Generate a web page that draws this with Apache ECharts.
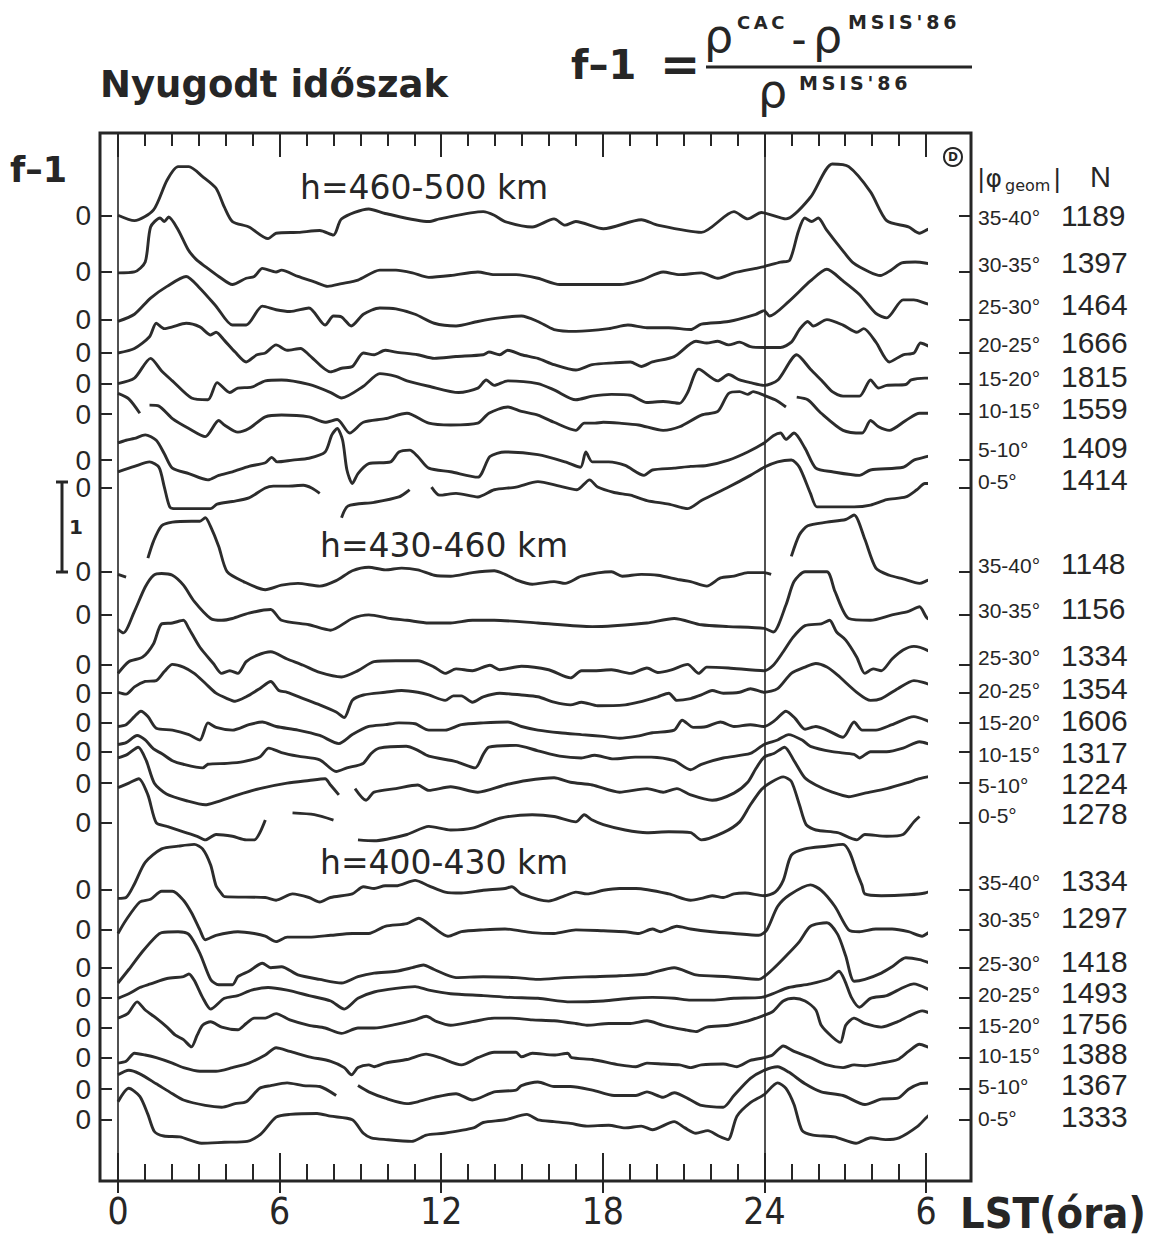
<!DOCTYPE html>
<html><head><meta charset="utf-8">
<script src="https://cdn.jsdelivr.net/npm/echarts/dist/echarts.min.js"></script>
<style>html,body{margin:0;padding:0;background:#fff}#c{width:1152px;height:1237px}</style>
</head><body><div id="c"></div><script>
// ---- DATA: f-1 values, [LST hour, f-1]; null = gap in the curve ----
// h = 460-500 km
const a1=[[0,0],[0.61,-0.06],[1.32,0.06],[1.82,0.39],[2.23,0.54],[2.63,0.54],[3.14,0.43],[3.64,0.3],[3.95,0.09],[4.25,-0.07],[4.86,-0.13],[5.57,-0.26],[5.87,-0.2],[6.7,-0.19],[7.49,-0.17],[8.0,-0.22],[8.3,-0.04],[9.31,0.07],[9.92,0.02],[11.54,-0.07],[11.94,-0.04],[13.56,0.04],[13.97,0],[14.37,-0.07],[15.38,-0.13],[16.19,-0.04],[16.6,-0.11],[17.0,-0.07],[18.02,-0.15],[19.43,-0.05],[20.04,-0.11],[21.66,-0.19],[22.87,0.04],[23.38,-0.04],[23.89,0.03],[24.8,-0.04],[25.71,0.2],[26.52,0.57],[27.13,0.54],[27.94,0.26],[28.54,-0.06],[29.35,-0.13],[29.76,-0.2],[30.16,-0.15],[30.77,-0.17]];
const a2=[[0,-0.01],[0.61,0],[1.01,0.11],[1.21,0.5],[1.56,0.6],[1.72,0.56],[1.88,0.61],[2.23,0.47],[2.6,0.25],[2.9,0.14],[3.24,0.06],[3.74,-0.05],[4.25,-0.14],[4.76,-0.07],[5.06,-0.05],[5.36,0.04],[5.87,0],[6.07,0.02],[6.68,-0.05],[7.29,-0.11],[7.79,-0.16],[8.3,-0.13],[8.91,-0.09],[9.72,0.02],[10.32,0.02],[10.93,-0.01],[11.54,-0.06],[12.35,-0.04],[13.36,0],[13.97,-0.03],[14.78,-0.03],[15.59,-0.07],[16.4,-0.14],[17.21,-0.14],[18.62,-0.14],[19.43,-0.09],[20.24,0],[20.85,-0.03],[21.66,-0.01],[22.27,-0.07],[22.87,-0.01],[23.68,0.04],[23.99,0.06],[24.6,0.11],[24.94,0.13],[25.26,0.45],[25.5,0.6],[25.75,0.56],[26.0,0.6],[26.3,0.47],[26.9,0.24],[27.3,0.1],[27.9,0],[28.3,-0.04],[28.7,0.02],[29.1,0.1],[29.6,0.11],[29.96,0.1],[30.57,0.06]];
const a3=[[0,-0.02],[0.61,0.06],[1.21,0.24],[1.82,0.37],[2.53,0.48],[3.04,0.35],[3.64,0.15],[4.25,-0.06],[4.76,-0.06],[5.36,0.15],[5.87,0.11],[6.38,0.09],[7.09,0.13],[7.69,-0.06],[8.0,0.04],[8.3,0.03],[8.66,-0.07],[9.11,0.06],[9.72,0.13],[10.32,0.12],[11.03,0.06],[11.74,-0.04],[12.55,-0.07],[13.36,-0.02],[14.17,0.02],[14.98,0.04],[15.59,-0.02],[16.19,-0.11],[17.0,-0.13],[18.22,-0.1],[18.93,-0.06],[19.64,-0.09],[20.45,-0.09],[21.26,-0.11],[21.66,-0.05],[22.67,-0.02],[23.68,0.06],[23.99,0.1],[24.19,0.04],[24.9,0.2],[25.71,0.43],[26.32,0.56],[26.92,0.43],[27.53,0.28],[28.14,0.07],[28.54,0.02],[29.15,0.22],[29.55,0.22],[30.16,0.17],[30.67,0.17]];
const a4=[[0,0],[0.61,0.05],[1.17,0.18],[1.42,0.33],[1.72,0.27],[2.02,0.29],[2.53,0.33],[3.04,0.29],[3.44,0.2],[3.64,0.23],[3.95,0.14],[4.35,0.01],[4.76,-0.1],[5.16,-0.02],[5.47,0],[5.87,0.09],[6.28,0.03],[6.78,0.05],[7.09,-0.02],[7.89,-0.21],[8.3,-0.17],[8.7,-0.15],[9.11,0],[9.51,-0.02],[9.92,0.03],[10.32,0.01],[11.13,-0.02],[11.74,-0.06],[12.55,-0.04],[13.56,-0.02],[13.77,0.01],[14.17,-0.02],[14.47,0.03],[14.98,-0.02],[15.59,-0.06],[16.19,-0.13],[17.0,-0.19],[17.61,-0.13],[18.42,-0.11],[19.03,-0.1],[19.43,-0.15],[19.84,-0.1],[20.65,-0.04],[21.46,0.13],[21.86,0.11],[22.27,0.13],[22.67,0.09],[23.08,0.12],[23.48,0.07],[23.99,0.06],[24.6,0.06],[25.0,0.12],[25.3,0.26],[25.61,0.35],[25.81,0.3],[26.32,0.37],[26.92,0.31],[27.43,0.23],[27.69,0.27],[28.14,0.12],[28.64,-0.1],[29.15,-0.02],[29.55,0],[29.8,0.11],[30.16,0.07],[30.67,0.05]];
const a5=[[0,0],[0.61,0.06],[1.21,0.28],[1.62,0.14],[2.02,0.03],[2.73,-0.16],[3.34,-0.18],[3.68,0.01],[4.15,-0.1],[4.45,-0.05],[4.96,-0.04],[5.47,0.03],[6.07,0.04],[7.09,-0.01],[7.9,-0.1],[8.3,-0.16],[9.11,-0.03],[9.72,0.11],[10.32,0.08],[10.73,0.03],[11.54,-0.03],[12.65,-0.1],[13.36,-0.05],[13.67,0.04],[13.97,-0.02],[14.47,0.03],[15.59,0],[16.19,-0.07],[17.0,-0.18],[17.61,-0.14],[18.32,-0.12],[19.03,-0.13],[19.64,-0.21],[20.24,-0.2],[20.85,-0.22],[21.15,-0.1],[21.56,0.16],[22.27,0.03],[22.67,0.1],[23.08,0.04],[23.48,0.01],[23.99,-0.02],[24.5,0.04],[25.2,0.32],[25.71,0.16],[26.11,0.04],[26.52,-0.09],[26.92,-0.14],[27.53,-0.14],[27.94,0.04],[28.24,-0.05],[28.54,-0.02],[29.25,-0.01],[29.45,0.04],[29.96,0.06],[30.67,0.06]];
const a6=[[0,0.23],[0.4,0.17],[0.81,0.01],null,[1.17,0.1],[1.52,0.09],[2.02,-0.05],[2.63,-0.16],[3.24,-0.25],[3.74,-0.07],[3.95,-0.12],[4.45,-0.2],[4.86,-0.16],[5.47,-0.03],[6.07,-0.01],[7.09,-0.03],[7.69,-0.09],[8.14,-0.06],[8.6,-0.21],[9.11,-0.09],[9.92,-0.05],[10.73,0.01],[11.54,-0.1],[12.35,-0.12],[13.36,-0.1],[13.77,0.01],[14.47,0.08],[14.98,0.03],[15.59,-0.01],[16.19,-0.09],[17.0,-0.18],[17.31,-0.1],[17.71,-0.1],[18.02,-0.09],[18.62,-0.1],[19.33,-0.12],[20.24,-0.18],[20.85,-0.14],[21.66,-0.01],[22.27,0.03],[22.67,0.23],[23.08,0.25],[23.38,0.22],[23.58,0.25],[23.99,0.21],[24.4,0.16],[24.8,0.08],null,[25.2,0.19],[25.61,0.16],[26.11,0.01],[26.92,-0.18],[27.63,-0.21],[27.94,-0.07],[28.24,-0.14],[28.64,-0.18],[29.25,-0.07],[29.76,0.01],[30.67,0.01]];
const a7=[[0,0.19],[0.3,0.22],[0.61,0.24],[1.01,0.28],[1.42,0.22],[1.72,0.07],[2.02,-0.09],[2.63,-0.15],[3.34,-0.22],[3.74,-0.17],[4.25,-0.13],[4.86,-0.07],[5.47,-0.03],[5.71,0.03],[5.91,-0.02],[6.48,0],[7.09,0.02],[7.69,0.09],[7.94,0.28],[8.14,0.35],[8.34,0.22],[8.5,-0.11],[8.7,-0.26],[8.91,-0.15],[9.31,-0.04],[10.12,-0.02],[10.43,0.09],[10.83,0.11],[11.13,0.04],[11.54,-0.09],[12.35,-0.13],[13.36,-0.19],[13.81,0.04],[14.37,0.09],[15.59,0.06],[16.6,-0.02],[17.17,-0.08],[17.37,0.09],[17.61,-0.02],[18.22,-0.02],[18.83,-0.06],[19.53,-0.17],[19.84,-0.11],[20.65,-0.09],[21.26,-0.07],[21.86,-0.06],[22.67,0],[23.38,0.09],[23.99,0.19],[24.33,0.27],[24.6,0.3],[24.8,0.23],[25.1,0.3],[25.51,0.13],[25.91,-0.09],[26.52,-0.13],[27.53,-0.17],[27.94,-0.11],[29.15,-0.08],[29.55,0],[30.06,0.04],[30.67,0.11]];
const a8=[[0,0.18],[0.61,0.24],[1.17,0.29],[1.52,0.23],[1.72,0.01],[1.92,-0.21],[2.13,-0.23],[3.44,-0.23],[3.68,-0.18],[4.25,-0.15],[4.86,-0.11],[5.47,0],[5.77,0.02],[6.28,0.02],[6.88,0.03],[7.19,0],[7.49,-0.06],null,[8.3,-0.33],[8.54,-0.2],[9.51,-0.16],[10.43,-0.1],[10.83,-0.02],null,[11.64,0.01],[11.94,-0.08],[12.55,-0.06],[13.36,-0.1],[13.97,-0.02],[14.78,0.01],[15.59,0.07],[16.4,0.02],[17.04,-0.02],[17.51,0.09],[17.81,0.01],[18.42,-0.05],[19.03,-0.08],[19.64,-0.14],[20.45,-0.18],[21.15,-0.23],[21.66,-0.14],[22.67,0.01],[23.48,0.14],[23.99,0.23],[24.49,0.29],[25.0,0.31],[25.3,0.23],[25.71,-0.06],[25.95,-0.21],[26.52,-0.21],[27.33,-0.21],[27.94,-0.19],[28.54,-0.13],[29.25,-0.1],[29.66,-0.02],[29.96,0.05],[30.67,0.05]];
// h = 430-460 km
const b1=[[0,-0.03],[0.3,-0.06],null,[1.11,0.15],[1.32,0.34],[1.62,0.51],[2.02,0.55],[2.73,0.56],[3.04,0.56],[3.24,0.6],[3.44,0.5],[3.74,0.28],[4.05,0],[4.66,-0.11],[5.47,-0.2],[6.07,-0.15],[6.68,-0.13],[7.49,-0.16],[8.1,-0.1],[8.7,0.01],[9.31,0.05],[9.92,0.02],[10.53,0.04],[11.13,0.02],[11.74,-0.04],[12.35,-0.05],[13.16,-0.01],[13.97,0.01],[14.37,-0.03],[14.78,-0.09],[15.38,-0.14],[16.19,-0.11],[16.6,-0.13],[17.21,-0.05],[18.32,0],[18.72,-0.05],[19.43,-0.03],[20.04,-0.04],[20.85,-0.09],[21.26,-0.11],[21.86,-0.16],[22.37,-0.07],[22.87,-0.05],[23.38,-0.01],[23.99,-0.01],[24.25,-0.03],null,[25.0,0.17],[25.3,0.41],[25.61,0.51],[26.32,0.55],[27.02,0.58],[27.33,0.63],[27.73,0.36],[28.14,0.04],[28.64,-0.04],[29.15,-0.08],[29.76,-0.13],[30.16,-0.09],[30.67,-0.09]];
const b2=[[0,-0.16],[0.2,-0.2],[0.61,0.04],[1.01,0.31],[1.32,0.44],[1.62,0.46],[2.02,0.44],[2.43,0.33],[2.83,0.15],[3.44,-0.04],[3.85,-0.06],[4.25,-0.04],[4.86,0.02],[5.67,0.06],[6.07,-0.06],[7.09,-0.11],[7.89,-0.17],[8.7,-0.04],[9.31,0],[10.12,-0.04],[10.73,-0.06],[11.54,-0.09],[12.35,-0.09],[13.16,-0.06],[13.97,-0.06],[15.59,-0.09],[17.61,-0.13],[18.42,-0.12],[19.64,-0.09],[20.65,-0.04],[21.66,-0.11],[22.67,-0.13],[23.99,-0.15],[24.33,-0.19],[24.8,0.11],[25.1,0.37],[25.51,0.48],[26.32,0.48],[26.62,0.26],[27.13,-0.04],[27.94,-0.06],[28.74,0],[29.35,0.04],[29.76,0.09],[30.06,-0.04],[30.67,-0.06]];
const b3=[[0,-0.1],[0.4,0.03],[0.91,0.08],[1.32,0.23],[1.62,0.45],[2.02,0.46],[2.43,0.49],[2.63,0.4],[3.04,0.19],[3.54,0.01],[3.85,-0.1],[4.15,-0.07],[4.45,-0.1],[4.76,0.03],[5.16,0.1],[5.67,0.14],[6.28,0.06],[6.88,-0.01],[7.49,-0.09],[8.3,-0.14],[8.91,-0.07],[9.51,0.03],[10.32,0.04],[11.13,0.04],[11.74,-0.03],[12.15,-0.1],[12.55,-0.05],[13.16,-0.07],[13.81,-0.01],[14.17,-0.06],[14.98,-0.02],[15.99,-0.06],[16.8,-0.15],[17.21,-0.07],[17.71,-0.07],[18.32,-0.06],[19.03,-0.1],[19.64,-0.04],[20.04,-0.09],[20.55,-0.06],[21.15,0],[21.56,-0.1],[21.86,-0.03],[22.67,-0.04],[23.99,-0.07],[24.33,-0.01],[24.7,0.14],[25.06,0.3],[25.51,0.43],[26.11,0.45],[26.42,0.49],[26.68,0.36],[27.02,0.27],[27.43,0.08],[27.73,-0.1],[28.04,-0.05],[28.34,-0.07],[28.74,0.06],[29.15,0.16],[29.55,0.2],[30.16,0.14],[30.77,0.01]];
const b4=[[0,0.01],[0.3,-0.01],[0.61,0.07],[1.01,0.13],[1.42,0.14],[1.72,0.24],[2.02,0.32],[2.43,0.29],[2.83,0.22],[3.24,0.11],[3.64,0],[4.05,-0.06],[4.35,-0.09],[4.76,-0.04],[5.26,0.05],[5.67,0.13],[5.97,0.03],[6.28,0.01],[6.88,-0.06],[7.49,-0.13],[8.1,-0.21],[8.4,-0.27],[8.7,-0.08],[9.11,-0.02],[9.92,0.01],[10.53,0.03],[11.13,0.01],[11.54,-0.02],[12.15,-0.08],[12.45,-0.03],[12.75,-0.03],[13.16,-0.1],[13.56,-0.04],[14.17,0],[14.98,-0.02],[15.59,-0.04],[16.19,-0.1],[16.8,-0.13],[17.21,-0.1],[17.81,-0.14],[18.83,-0.13],[19.33,-0.1],[20.04,-0.04],[20.45,0],[20.75,-0.08],[21.26,-0.06],[21.66,-0.02],[22.06,0.03],[22.47,0],[23.08,0.01],[23.48,0.05],[23.99,0.01],[24.49,0.05],[25.0,0.22],[25.51,0.29],[25.91,0.33],[26.32,0.29],[26.72,0.2],[27.43,0.01],[27.94,-0.08],[28.34,-0.06],[28.95,0.05],[29.55,0.14],[30.16,0.09],[30.77,-0.06]];
const b5=[[0,-0.04],[0.3,-0.02],[0.61,0.07],[0.85,0.13],[1.11,0.07],[1.42,-0.06],[2.02,-0.08],[2.63,-0.13],[3.04,-0.19],[3.34,0],[3.64,-0.05],[4.25,-0.08],[4.86,-0.02],[5.36,0.01],[5.87,-0.04],[6.68,-0.08],[7.49,-0.14],[8.2,-0.23],[8.7,-0.13],[9.31,-0.04],[9.92,-0.02],[10.43,0],[11.03,-0.01],[11.54,-0.08],[12.15,-0.08],[12.75,-0.02],[13.56,0],[14.47,0.01],[14.98,-0.04],[15.59,-0.08],[16.4,-0.11],[17.21,-0.13],[18.02,-0.15],[18.62,-0.17],[19.23,-0.15],[19.84,-0.11],[20.65,-0.08],[20.95,0.03],[21.36,-0.05],[21.86,-0.04],[22.37,0.01],[22.87,-0.04],[23.48,-0.02],[23.99,-0.04],[24.4,0.03],[24.8,0.13],[25.14,0.05],[25.51,-0.07],[25.91,-0.04],[26.32,-0.08],[26.92,-0.16],[27.33,0.01],[27.63,-0.08],[28.14,-0.08],[28.74,-0.02],[29.55,0.07],[30.16,0.01],[30.77,-0.06]];
const b6=[[0,0.08],[0.3,0.1],[0.71,0.18],[1.01,0.13],[1.32,0.03],[1.62,-0.02],[2.02,-0.1],[2.43,-0.14],[3.14,-0.18],[3.34,-0.14],[4.05,-0.13],[4.66,-0.11],[5.26,-0.06],[5.6,0.04],[6.07,-0.01],[6.68,-0.05],[7.49,-0.09],[8.1,-0.22],[8.5,-0.18],[9.1,-0.13],[9.4,-0.02],[9.7,0.04],[10.7,0.06],[11.1,0.02],[11.54,-0.05],[12.55,-0.11],[13.26,-0.18],[13.56,-0.03],[13.77,0.05],[14.78,0.07],[15.59,0.01],[16.4,-0.05],[17.2,-0.07],[17.7,-0.04],[18.4,-0.08],[19.2,-0.06],[19.8,-0.06],[20.65,-0.1],[21.26,-0.2],[21.66,-0.14],[22.47,-0.07],[23.48,-0.02],[23.99,0.08],[24.49,0.13],[24.9,0.19],[25.4,0.13],[25.71,0.06],[26.52,0],[27.33,-0.03],[27.53,-0.07],[27.94,0],[28.54,0],[29.15,0.04],[29.76,0.11],[30.36,0.06],[30.77,0.02]];
const b7=[[0,0.28],[0.35,0.32],[0.75,0.4],[1.05,0.25],[1.35,0],[1.8,-0.12],[2.6,-0.2],[3.24,-0.24],[3.64,-0.21],[4.45,-0.13],[5.26,-0.06],[6.28,0],[7.09,0.03],[7.69,0.05],[7.89,-0.02],[8.2,-0.13],null,[8.8,-0.06],[9.21,-0.19],[9.51,-0.1],[10.32,-0.06],[11.13,-0.02],[11.54,-0.08],[12.35,-0.04],[13.36,-0.1],[14.37,-0.02],[15.18,0.03],[16.19,0.06],[16.8,0.01],[17.61,-0.02],[18.62,-0.1],[19.64,-0.06],[20.24,-0.1],[20.75,-0.06],[21.26,-0.13],[22.06,-0.19],[22.87,-0.11],[23.38,0.01],[23.68,0.16],[23.99,0.29],[24.35,0.33],[24.75,0.4],[25.1,0.25],[25.5,0.06],[25.91,-0.02],[26.52,-0.1],[27.13,-0.15],[27.73,-0.11],[28.54,-0.06],[29.35,0.01],[29.76,0.05],[30.36,0.09],[30.77,0.13]];
const b8=[[0,0.39],[0.4,0.44],[0.77,0.49],[1.11,0.31],[1.42,0],[1.82,-0.04],[2.43,-0.1],[2.94,-0.15],[3.24,-0.19],[3.64,-0.13],[4.25,-0.15],[4.76,-0.19],[5.06,-0.19],[5.47,0.03],null,[6.48,0.11],[7.29,0.09],[8.0,0.03],null,[8.91,-0.19],[9.51,-0.2],[10.73,-0.13],[11.54,-0.04],[12.35,-0.08],[13.16,-0.06],[14.17,0.05],[15.38,0.09],[16.19,0.07],[17.0,0.01],[17.31,0.09],[17.61,0.03],[18.02,-0.02],[18.83,-0.08],[19.64,-0.11],[20.45,-0.1],[21.26,-0.11],[21.66,-0.19],[22.47,-0.11],[23.08,0.01],[23.48,0.2],[23.89,0.37],[24.19,0.44],[24.7,0.51],[25.0,0.46],[25.3,0.2],[25.55,-0.02],[25.91,-0.08],[26.72,-0.11],[27.43,-0.19],[27.73,-0.13],[28.54,-0.15],[29.15,-0.13],[29.55,0.01],[29.76,0.07]];
// h = 400-430 km
const c1=[[0,-0.1],[0.3,-0.09],[0.61,0.06],[1.01,0.3],[1.62,0.45],[2.23,0.48],[2.83,0.5],[3.14,0.45],[3.44,0.27],[3.64,0.04],[3.85,-0.05],[3.95,-0.08],[5.47,-0.09],[5.87,-0.12],[6.48,-0.05],[7.09,-0.09],[7.49,-0.14],[7.89,-0.09],[8.7,-0.05],[9.11,0.03],[9.51,0.01],[9.92,0.04],[10.32,0.04],[11.03,0.1],[11.54,0.04],[12.15,-0.03],[12.75,-0.04],[13.56,-0.01],[14.37,0.01],[14.62,0.03],[14.98,-0.05],[15.99,-0.13],[16.6,-0.07],[17.0,-0.03],[17.41,-0.05],[18.02,-0.01],[18.62,0.01],[19.23,0.01],[20.45,-0.05],[21.26,-0.12],[21.66,-0.1],[22.06,-0.07],[22.47,-0.09],[22.87,-0.05],[23.28,-0.04],[23.99,-0.07],[24.4,-0.03],[24.7,0.1],[25.0,0.38],[25.5,0.45],[26.3,0.48],[26.92,0.5],[27.17,0.41],[27.43,0.19],[27.63,0.04],[27.73,-0.05],[28.34,-0.07],[29.35,-0.06],[29.96,-0.04],[30.57,0.03]];
const c2=[[0,-0.04],[0.3,0.11],[0.81,0.31],[1.21,0.34],[1.62,0.43],[2.02,0.43],[2.43,0.33],[2.73,0.19],[3.04,0],[3.24,-0.11],[3.64,-0.06],[4.45,-0.02],[5.06,-0.04],[5.47,-0.07],[5.87,-0.13],[6.28,-0.08],[7.09,-0.08],[7.9,-0.06],[8.7,-0.04],[9.31,-0.04],[9.92,0.04],[10.73,0.07],[11.17,0.13],[11.74,0.02],[12.25,-0.07],[12.75,-0.02],[13.56,0],[14.37,0.01],[15.38,-0.03],[16.19,-0.04],[17.0,0],[18.02,-0.01],[18.83,-0.02],[19.33,-0.04],[19.84,0.01],[20.14,-0.02],[20.75,0.04],[21.26,0.01],[22.06,-0.02],[22.87,-0.04],[23.79,-0.06],[24.09,0],[24.49,0.26],[24.94,0.39],[25.71,0.5],[26.11,0.44],[26.62,0.26],[27.13,0],[27.53,-0.02],[28.14,0.01],[28.74,0.01],[29.35,-0.02],[29.86,-0.07],[30.16,-0.02],[30.67,0]];
const c3=[[0,-0.17],[0.4,-0.02],[0.91,0.18],[1.42,0.35],[1.62,0.39],[2.23,0.4],[2.63,0.37],[3.04,0.16],[3.44,-0.13],[3.74,-0.19],[4.25,-0.19],[4.45,-0.1],[4.86,-0.04],[5.36,0.05],[5.67,0],[6.07,0.01],[6.68,-0.08],[7.49,-0.13],[8.3,-0.17],[8.91,-0.1],[9.51,-0.06],[10.32,-0.04],[10.93,0],[11.34,0.03],[11.74,-0.02],[12.55,-0.11],[13.56,-0.1],[14.78,-0.11],[15.59,-0.13],[16.6,-0.11],[17.61,-0.1],[18.62,-0.09],[19.64,-0.07],[20.65,0],[21.46,-0.08],[22.67,-0.1],[23.79,-0.13],[24.3,-0.02],[24.9,0.16],[25.3,0.29],[25.71,0.46],[26.32,0.5],[26.72,0.37],[27.02,0.13],[27.33,-0.15],[27.73,-0.13],[28.34,-0.06],[28.74,0.01],[29.25,0.11],[29.76,0.09],[30.16,0.05],[30.67,-0.01]];
const c4=[[0,-0.01],[0.4,0.04],[0.81,0.11],[1.21,0.15],[1.82,0.21],[2.43,0.23],[2.63,0.26],[2.83,0.19],[3.14,0],[3.44,-0.13],[3.95,-0.01],[4.45,0.02],[4.96,0.08],[5.57,0.11],[6.28,0.08],[7.09,0.02],[7.9,-0.04],[8.4,-0.13],[8.91,-0.01],[9.51,0.06],[10.32,0.1],[11.03,0.12],[11.54,0.08],[12.35,0.04],[13.56,0.02],[14.58,0],[15.59,-0.01],[16.8,-0.05],[18.02,-0.04],[19.03,-0.01],[19.84,0],[20.65,-0.01],[21.26,-0.03],[22.06,-0.03],[22.87,-0.01],[23.89,0],[24.3,0.04],[24.9,0.11],[25.71,0.15],[26.42,0.21],[26.77,0.29],[26.98,0.19],[27.23,0],[27.53,-0.11],[27.94,-0.01],[28.54,0.02],[29.15,0.11],[29.55,0.15],[30.16,0.08],[30.77,-0.01]];
const c5=[[0,0.11],[0.36,0.16],[0.71,0.29],[1.01,0.2],[1.42,0.11],[1.82,0.01],[2.13,-0.08],[2.43,-0.13],[2.73,-0.21],[2.94,-0.08],[3.14,0.03],[3.44,0.07],[3.85,0.01],[4.45,-0.02],[4.76,0.05],[5.06,0.11],[5.47,0.11],[5.87,0.16],[6.38,0.09],[7.09,0.03],[7.69,0],[8.3,-0.06],[8.91,0],[9.51,0],[10.32,0.04],[11.03,0.09],[11.44,0.13],[11.84,0.07],[12.35,0.03],[13.16,0.07],[13.97,0.11],[14.58,0.11],[15.38,0.09],[16.19,0.08],[17.0,0.05],[17.41,0.03],[18.22,0.05],[19.03,0.05],[19.64,0.08],[20.24,0.03],[21.05,-0.02],[21.46,-0.04],[21.86,0.01],[22.67,0.03],[23.28,0.07],[23.89,0.13],[24.3,0.18],[24.7,0.3],[25.1,0.33],[25.51,0.3],[25.91,0.2],[26.11,0.03],[26.52,-0.1],[26.82,-0.16],[27.02,0.03],[27.33,0.11],[27.73,0.05],[28.34,0.01],[28.95,0.07],[29.35,0.13],[29.86,0.19],[30.36,0.14],[30.77,0.1]];
const c6=[[0,-0.06],[0.3,-0.04],[0.61,0.05],[1.01,0.03],[1.42,0],[2.02,-0.06],[2.43,-0.11],[3.04,-0.15],[3.64,-0.15],[4.25,-0.11],[4.86,-0.06],[5.47,0.03],[5.87,0.11],[6.38,0.07],[7.09,0.01],[7.9,-0.04],[8.4,-0.11],[8.67,-0.19],[8.91,-0.11],[9.31,-0.08],[9.51,-0.1],[9.92,-0.06],[10.73,-0.02],[11.44,0.04],[11.95,0],[12.75,-0.08],[13.36,0],[13.97,0.06],[14.78,0.06],[14.98,0.01],[15.38,0.05],[16.19,0.03],[16.7,0.05],[16.84,0],[17.61,-0.02],[18.62,-0.08],[19.23,-0.1],[19.64,-0.06],[20.24,-0.07],[20.85,-0.08],[21.26,-0.11],[21.66,-0.08],[22.47,-0.07],[22.98,-0.1],[23.48,-0.03],[23.99,0],[24.3,0.03],[24.7,0.13],[25.1,0.07],[25.71,0],[26.32,-0.08],[26.92,-0.11],[27.33,-0.08],[27.73,-0.09],[28.34,-0.06],[28.95,-0.02],[29.35,0.07],[29.76,0.15],[30.16,0.11],[30.77,0.07]];
const c7=[[0,0.16],[0.4,0.21],[0.81,0.17],[1.42,0.06],[2.02,-0.05],[2.43,-0.12],[3.24,-0.18],[3.85,-0.2],[4.35,-0.16],[4.76,-0.14],[5.26,0.01],[5.67,0.04],[6.28,0.07],[6.88,0.04],[7.49,0.03],[8.1,-0.07],null,[8.91,0.04],[9.31,-0.03],[9.92,-0.1],[10.73,-0.16],[11.13,-0.14],[11.74,-0.09],[12.55,-0.05],[13.16,-0.12],[13.97,-0.03],[14.78,-0.01],[14.98,0.04],[15.59,0.08],[16.19,0.03],[16.8,0.03],[17.61,-0.01],[18.42,-0.07],[19.23,-0.07],[19.64,-0.03],[20.24,-0.09],[20.65,-0.04],[21.26,-0.12],[21.66,-0.18],[22.47,-0.2],[22.87,-0.07],[23.48,0.12],[23.99,0.21],[24.49,0.25],[24.9,0.19],[25.51,0.06],[26.11,-0.03],[26.92,-0.07],[27.73,-0.17],[28.34,-0.11],[28.95,-0.1],[29.35,0],[29.76,0.06],[30.16,0.07],[30.77,0.08]];
const c8=[[0,0.2],[0.4,0.35],[0.81,0.26],[1.11,0.06],[1.35,-0.13],[1.7,-0.18],[2.3,-0.19],[3.1,-0.26],[3.95,-0.25],[4.8,-0.24],[5.3,-0.16],[5.87,0.03],[6.38,0.06],[7.39,0.07],[7.89,0.04],[8.7,0],[9.11,-0.15],[9.4,-0.2],[9.95,-0.22],[10.9,-0.24],[11.45,-0.17],[12.1,-0.15],[13.2,-0.09],[13.56,-0.03],[14.37,0],[15.18,0.06],[15.59,0],[16.19,-0.02],[16.8,-0.04],[17.41,-0.07],[18.22,-0.06],[18.83,-0.09],[19.43,-0.07],[19.84,-0.11],[20.65,-0.02],[21.05,-0.09],[21.46,-0.15],[21.9,-0.12],[22.3,-0.18],[22.65,-0.22],[22.98,0.04],[23.48,0.19],[23.99,0.28],[24.49,0.41],[24.8,0.35],[25.1,0.17],[25.4,-0.12],[25.8,-0.17],[26.6,-0.19],[27.4,-0.26],[27.95,-0.2],[28.5,-0.22],[29.0,-0.2],[29.7,-0.07],[30.16,0.06],[30.77,0.08]];

const curves=[a1,a2,a3,a4,a5,a6,a7,a8,b1,b2,b3,b4,b5,b6,b7,b8,c1,c2,c3,c4,c5,c6,c7,c8];
// vertical stacking offset (in f-1 units) of each curve's zero line
const curveOffsets=[10.73,10.10,9.57,9.20,8.86,8.52,8.01,7.70, 6.77,6.29,5.74,5.42,5.09,4.77,4.42,3.98, 3.24,2.79,2.37,2.04,1.70,1.37,1.02,0.68];
const latBands=['35-40°','30-35°','25-30°','20-25°','15-20°','10-15°','5-10°','0-5°'];
const countsA=[1189,1397,1464,1666,1815,1559,1409,1414];
const countsB=[1148,1156,1334,1354,1606,1317,1224,1278];
const countsC=[1334,1297,1418,1493,1756,1388,1367,1333];
const heightBands=['h=460-500 km','h=430-460 km','h=400-430 km'];

// ---- layout ----
const Y_MAX=11.644;
const rightLabelY=[215,262,304,342,376,408,447,479, 563,608,655,688,720,752,783,813, 880,917,961,992,1023,1053,1084,1116];
const bandLabelPos=[[300,187],[320,545],[320,862]];
const INK='#262626';
const FN="'Liberation Sans Narrow','DejaVu Sans Condensed',sans-serif";
const TS="\u2009";

const chart=echarts.init(document.getElementById('c'),null,{renderer:'svg',width:1152,height:1237});
const series=curves.map((c,i)=>({
  type:'line',xAxisIndex:0,yAxisIndex:0,
  data:c.map(p=>p?[p[0],p[1]+curveOffsets[i]]:['-','-']),
  showSymbol:false,symbol:'none',smooth:0.25,clip:false,connectNulls:false,silent:true,
  lineStyle:{color:'#2c2c2c',width:2.9},
  markLine:i===0?{symbol:'none',silent:true,label:{show:false},lineStyle:{color:INK,width:1.6,type:'solid'},data:[{xAxis:0},{xAxis:24}]}:undefined
}));

function T(text,x,y,font,opt){opt=opt||{};return {type:'text',x:x,y:y,silent:true,style:{text:text,font:font,fill:INK,align:opt.align||'left',verticalAlign:opt.va||'middle',textAlign:opt.align||'left',textVerticalAlign:opt.va||'middle'}};}
const sp=s=>s.split('').join(TS);
const g=[];
g.push(T('Nyugodt időszak',100,84,"bold 37px 'DejaVu Sans',sans-serif"));
g.push(T('f–1',10,170,"bold 35px 'DejaVu Sans',sans-serif"));
// formula
g.push(T('f–1',571,65,"bold 40px 'DejaVu Sans',sans-serif"));
g.push(T('=',660,64,"bold 48px 'DejaVu Sans',sans-serif"));
g.push(T('ρ',704,36,"46px 'DejaVu Sans',sans-serif"));
g.push(T(sp('CAC'),737,22,"bold 18px 'DejaVu Sans',sans-serif"));
g.push(T('–',792,40,"bold 28px 'DejaVu Sans',sans-serif"));
g.push(T('ρ',813,36,"46px 'DejaVu Sans',sans-serif"));
g.push(T(sp("MSIS'86"),848,22,"bold 19px 'DejaVu Sans',sans-serif"));
g.push({type:'line',silent:true,shape:{x1:706,y1:67,x2:972,y2:67},style:{stroke:INK,lineWidth:3}});
g.push(T('ρ',758,91,"46px 'DejaVu Sans',sans-serif"));
g.push(T(sp("MSIS'86"),799,83,"bold 19px 'DejaVu Sans',sans-serif"));
// scale bar
g.push({type:'line',silent:true,shape:{x1:62,y1:482,x2:62,y2:572},style:{stroke:INK,lineWidth:3}});
g.push({type:'line',silent:true,shape:{x1:56,y1:482,x2:68,y2:482},style:{stroke:INK,lineWidth:3}});
g.push({type:'line',silent:true,shape:{x1:56,y1:572,x2:68,y2:572},style:{stroke:INK,lineWidth:3}});
g.push(T('1',69,527,"bold 20px 'DejaVu Sans',sans-serif"));
// circled D
g.push({type:'circle',silent:true,shape:{cx:953,cy:157,r:9},style:{fill:'none',stroke:INK,lineWidth:2}});
g.push(T('D',953,157,"bold 12px 'DejaVu Sans',sans-serif",{align:'center'}));
// height band titles
heightBands.forEach((t,k)=>g.push(T(t,bandLabelPos[k][0],bandLabelPos[k][1],"33px 'DejaVu Sans',sans-serif")));
// right header
g.push(T('|φ',977,178,"25px 'DejaVu Sans',sans-serif"));
g.push(T('geom',1005,185,"16px 'DejaVu Sans',sans-serif"));
g.push(T('|',1053,178,"25px 'DejaVu Sans',sans-serif"));
g.push(T('N',1090,177,"29px 'Liberation Sans','DejaVu Sans',sans-serif"));
const counts=countsA.concat(countsB,countsC);
counts.forEach((n,i)=>{
  g.push(T(latBands[i%8],978,rightLabelY[i]+2,"21px 'Liberation Sans','DejaVu Sans',sans-serif"));
  g.push(T(String(n),1061,rightLabelY[i],"30px 'Liberation Sans','DejaVu Sans',sans-serif"));
});
g.push(T('LST(óra)',960,1213,"bold 43px 'DejaVu Sans Condensed','DejaVu Sans',sans-serif"));

const gridData={left:118,right:226,top:133,bottom:56};
const option={
  animation:false,
  backgroundColor:'#fff',
  grid:[
    {left:100,right:181,top:133,bottom:56,show:true,borderColor:INK,borderWidth:3,backgroundColor:'transparent'},
    gridData,
    Object.assign({},gridData)
  ],
  xAxis:[
    {gridIndex:1,type:'value',min:0,max:30,interval:6,position:'bottom',
      axisLine:{show:false},splitLine:{show:false},
      axisTick:{show:true,inside:true,length:28,lineStyle:{color:INK,width:2}},
      minorTick:{show:true,splitNumber:6,length:17,lineStyle:{color:INK,width:2}},
      minorSplitLine:{show:false},
      axisLabel:{show:true,margin:12,color:INK,fontSize:37,fontFamily:FN,formatter:v=>String(v>24?v-24:v)}},
    {gridIndex:1,type:'value',min:0,max:30,interval:6,position:'top',
      axisLine:{show:false},splitLine:{show:false},
      axisTick:{show:true,inside:true,length:24,lineStyle:{color:INK,width:2}},
      minorTick:{show:true,splitNumber:6,length:13,lineStyle:{color:INK,width:2}},
      axisLabel:{show:false}},
    {gridIndex:2,type:'value',min:0,max:30,interval:6,position:'bottom',
      axisLine:{show:false},splitLine:{show:false},
      axisTick:{show:true,inside:false,length:12,lineStyle:{color:INK,width:2}},
      axisLabel:{show:false}},
    {gridIndex:0,type:'value',min:0,max:1,show:false}
  ],
  yAxis:[
    {gridIndex:1,type:'value',min:0,max:Y_MAX,show:false},
    {gridIndex:2,type:'value',min:0,max:Y_MAX,show:false},
    {gridIndex:0,type:'value',min:0,max:Y_MAX,position:'left',
      axisLine:{show:false},splitLine:{show:false},
      axisTick:{show:true,inside:true,length:12,customValues:curveOffsets,lineStyle:{color:INK,width:2}},
      axisLabel:{show:true,customValues:curveOffsets,formatter:()=>'0',margin:9,color:INK,fontSize:28,fontFamily:"'Liberation Sans','DejaVu Sans',sans-serif"}},
    {gridIndex:0,type:'value',min:0,max:Y_MAX,position:'right',
      axisLine:{show:false},splitLine:{show:false},
      axisTick:{show:true,inside:true,length:12,customValues:curveOffsets,lineStyle:{color:INK,width:2}},
      axisLabel:{show:false}}
  ],
  graphic:{elements:g},
  series:series
};
chart.setOption(option);
</script></body></html>
